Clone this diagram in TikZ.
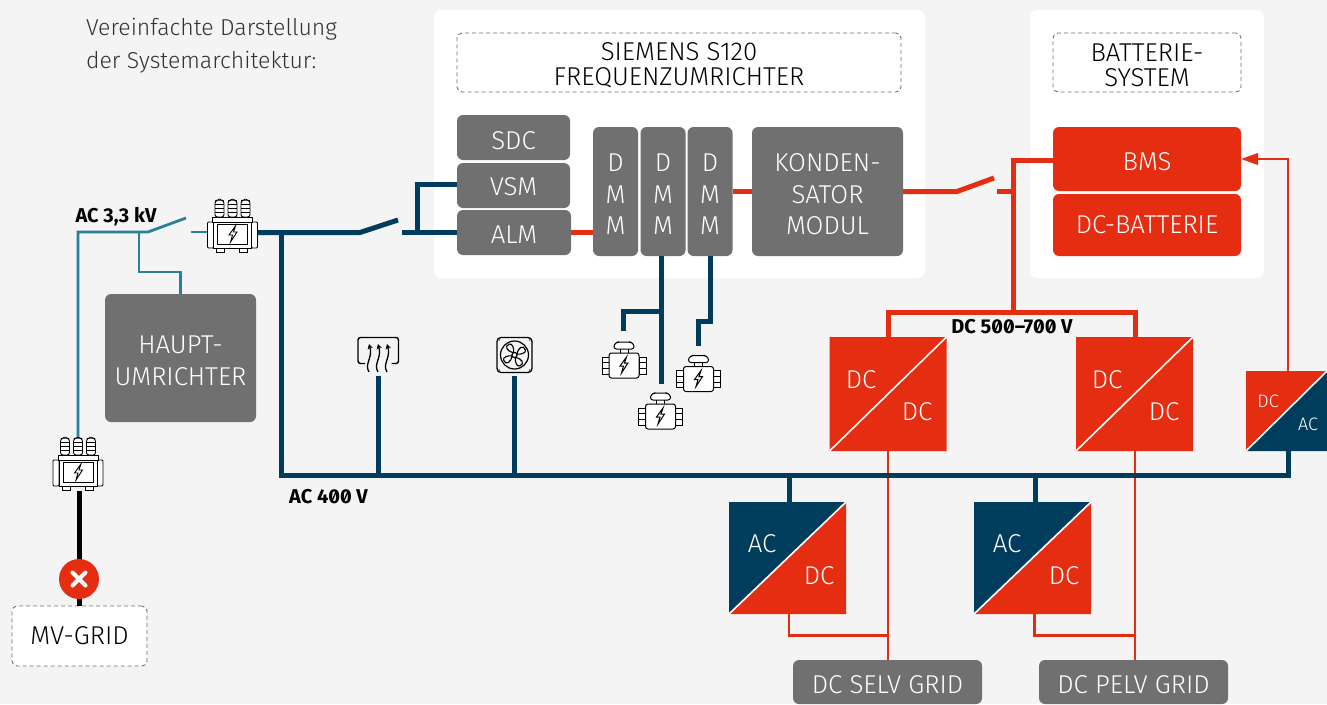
\documentclass[tikz,border=0pt]{standalone}
\usepackage{fontspec}
\setmainfont{Fira Sans Light}[BoldFont=Fira Sans Bold]
\usetikzlibrary{arrows.meta}
\definecolor{bgcol}{HTML}{F4F4F4}
\definecolor{boxgray}{HTML}{707070}
\definecolor{navy}{HTML}{003D5C}
\definecolor{teal2}{HTML}{2A7F9A}
\definecolor{redc}{HTML}{E52D12}
\newcommand{\bolt}{(2.5,-8) -- (-4,1) -- (-0.5,1) -- (-2.5,8) -- (4,-2) -- (0.5,-2) -- cycle}
\newcommand{\lift}{\rule{0pt}{23.5pt}}
\newcommand{\liftb}{\rule{0pt}{21pt}}
\tikzset{
	panel/.style={fill=white, rounded corners=7pt, inner sep=0pt, minimum width=#1, minimum height=268pt},
	dashbox/.style={draw=boxgray, dash pattern=on 4pt off 3pt, line width=0.9pt, fill=white, rounded corners=5pt, inner sep=0pt, text=black, align=center},
	block/.style={fill=boxgray, text=white, rounded corners=6pt, inner sep=0pt, align=center},
	redblock/.style={block, fill=redc},
	volt/.style={font=\fontsize{20}{20}\selectfont\bfseries\addfontfeatures{RawFeature=+zero}, text=black, inner sep=0pt},
	convlabel/.style={text=white, inner sep=0pt},
	conv/.style n args={4}{minimum width=#3, minimum height=#4, inner sep=0pt, path picture={
		\fill[#1] (path picture bounding box.north west) -- (path picture bounding box.north east) -- (path picture bounding box.south west) -- cycle;
		\fill[#2] (path picture bounding box.south east) -- (path picture bounding box.north east) -- (path picture bounding box.south west) -- cycle;
		\draw[white, line width=1.6pt] (path picture bounding box.south west) -- (path picture bounding box.north east);}},
	acline/.style={navy, line width=5pt},
	hvline/.style={teal2, line width=2.8pt},
	dcline/.style={redc, line width=5pt},
	dcthin/.style={redc, line width=2.6pt},
	iconbox/.style={inner sep=0pt, minimum width=#1, minimum height=36pt},
	xfmr/.pic={
		\foreach \bx in {-13,0,13} {
			\draw[fill=white, line width=0.9pt, rounded corners=2.5pt] (\bx-4.5,1) -- (\bx-2,0) -- (\bx+2,0) -- (\bx+4.5,1) -- (\bx+4.5,17) -- (\bx-4.5,17) -- cycle;
			\foreach \by in {4.5,8.5,12.5} \draw[line width=0.8pt] (\bx-4.5,\by) -- (\bx+4.5,\by);
		}
		\draw[fill=white, line width=0.9pt, rounded corners=1pt] (-25,22) rectangle (-19,48);
		\draw[fill=white, line width=0.9pt, rounded corners=1pt] (19,22) rectangle (25,48);
		\draw[fill=white, line width=0.9pt] (-16,48) rectangle (-8,52);
		\draw[fill=white, line width=0.9pt] (7,48) rectangle (15,52);
		\draw[fill=white, line width=0.9pt] (-20,17) rectangle (20,22);
		\draw[fill=white, line width=0.9pt] (-19,22) rectangle (19,48);
		\draw[line width=0.9pt] (-15,24) rectangle (15,44);
		\draw[line width=0.9pt, xshift=0.5pt, yshift=-34pt] \bolt;
	},
	motor/.pic={
		\draw[fill=white, line width=1pt] (-4,6) rectangle (4,11);
		\draw[fill=white, line width=1pt, rounded corners=2.5pt] (-10,7) -- (-10,2) -- (-6,0) -- (6,0) -- (10,2) -- (10,7) -- cycle;
		\foreach \sx in {-1,1} {
			\draw[fill=white, line width=1pt] (\sx*15,15) rectangle (\sx*22,32);
			\draw[line width=0.9pt] (\sx*15,20.5) -- (\sx*22,20.5) (\sx*15,26.5) -- (\sx*22,26.5);
		}
		\draw[fill=white, line width=1pt, rounded corners=2.5pt] (-15,11) rectangle (15,36);
		\draw[line width=1pt, yshift=-23pt] \bolt;
	},
}
\begin{document}
\begin{tikzpicture}[x=1pt, y=-1pt, font=\fontsize{25.8}{31.5}\selectfont]
	\useasboundingbox (0,0) rectangle (1327,704);
	\fill[bgcol] (0,0) rectangle (1327,704);

	% --- panels ---
	\node[panel=491pt] (panelA) at (679.5,144) {};
	\node[panel=234pt] (panelB) at (1147,144) {};
	\node[anchor=west, inner sep=0pt, align=left, text=black!80, font=\fontsize{23}{33}\selectfont] (heading) at (86,46) {Vereinfachte Darstellung\\der Systemarchitektur:};
	\node[dashbox, minimum width=444pt, minimum height=59pt, font=\fontsize{25.8}{25.5}\selectfont] (titleA) at (679,62.5) {\lift SIEMENS S120\\FREQUENZUMRICHTER};
	\node[dashbox, minimum width=188pt, minimum height=59pt, font=\fontsize{25.8}{25.5}\selectfont] (titleB) at (1147,62.5) {\lift BATTERIE-\\SYSTEM};
	\node[dashbox, minimum width=135pt, minimum height=60pt] (mvgrid) at (79.5,636) {MV-GRID};

	% --- gray blocks ---
	\node[block, minimum width=113pt, minimum height=45pt] (SDC) at (513.5,137.5) {\lift SDC};
	\node[block, minimum width=113pt, minimum height=45pt] (VSM) at (513.5,185.5) {\liftb VSM};
	\node[block, minimum width=114pt, minimum height=45pt] (ALM) at (514,232.5) {\liftb ALM};
	\node[block, minimum width=45pt, minimum height=129pt] (dmmA) at (615.5,191.5) {\lift D\\M\\M};
	\node[block, minimum width=45pt, minimum height=129pt] (dmmB) at (663,191.5) {\lift D\\M\\M};
	\node[block, minimum width=45pt, minimum height=129pt] (dmmC) at (710,191.5) {\lift D\\M\\M};
	\node[block, minimum width=151pt, minimum height=129pt] (kond) at (827.5,191.5) {\lift KONDEN-\\SATOR\\MODUL};
	\node[redblock, minimum width=188pt, minimum height=64pt] (BMS) at (1147,159) {\lift BMS};
	\node[redblock, minimum width=188pt, minimum height=62pt] (batt) at (1147,225) {DC-BATTERIE};
	\node[block, minimum width=151pt, minimum height=128pt] (haupt) at (180.5,358) {\lift HAUPT-\\UMRICHTER};
	\node[block, minimum width=189pt, minimum height=44pt] (selv) at (887.5,682) {\lift DC SELV GRID};
	\node[block, minimum width=189pt, minimum height=44pt] (pelv) at (1133.5,682) {\lift DC PELV GRID};

	% --- converters ---
	\node[conv={redc}{redc}{117pt}{114pt}] (dcdcA) at (888,394) {};
	\node[conv={redc}{redc}{117pt}{114pt}] (dcdcB) at (1134.5,394) {};
	\node[conv={navy}{redc}{117pt}{112pt}] (acdcA) at (787.5,558) {};
	\node[conv={navy}{redc}{117pt}{112pt}] (acdcB) at (1032.5,558) {};
	\node[conv={redc}{navy}{81pt}{80pt}] (dcac) at (1286.5,411) {};
	\node[convlabel] (l1) at (861,380) {DC};
	\node[convlabel] (l2) at (917,412) {DC};
	\node[convlabel] (l3) at (1107,380) {DC};
	\node[convlabel] (l4) at (1164,412) {DC};
	\node[convlabel] (l5) at (762,544) {AC};
	\node[convlabel] (l6) at (819,576) {DC};
	\node[convlabel] (l7) at (1007,544) {AC};
	\node[convlabel] (l8) at (1064,576) {DC};
	\node[convlabel, font=\fontsize{18}{18}\selectfont] (l9) at (1268,401) {DC};
	\node[convlabel, font=\fontsize{18}{18}\selectfont] (l10) at (1308,424) {AC};

	% --- icon places ---
	\node[inner sep=0pt, minimum width=49pt, minimum height=53pt] (xfmrA) at (232.5,226.5) {};
	\node[inner sep=0pt, minimum width=49pt, minimum height=53pt] (xfmrB) at (78,464.5) {};
	\node[iconbox=42pt] (heater) at (378,355) {};
	\node[iconbox=36pt] (fan) at (514.5,355) {};

	% --- coordinates ---
	\coordinate (busL) at (281,475.5);
	\coordinate (busR) at (1288,475.5);
	\coordinate (acSwA) at (360,232.5);
	\coordinate (acSwB) at (398,220);
	\coordinate (acFix) at (402,232.5);
	\coordinate (hvTop) at (78,232);
	\coordinate (hvSwA) at (148,232);
	\coordinate (hvSwB) at (186,218);
	\coordinate (hvFix) at (191,232);
	\coordinate (dcSwA) at (957,191.5);
	\coordinate (dcSwB) at (994,178);
	\coordinate (dcFix) at (997,191.5);
	\coordinate (dcBusT) at (1013,157.5);
	\coordinate (dcBusB) at (1013,312);

	% --- AC lines ---
	\draw[line width=5pt] (mvgrid.north |- xfmrB.south) -- (mvgrid.north);
	\draw[hvline] (xfmrB.north) -- (hvTop) -- (hvSwA) -- (hvSwB);
	\draw[hvline] (hvFix) -- (xfmrA.west |- hvFix);
	\draw[hvline] (139,232) -- (139,272) -| (haupt.north);
	\draw[acline] (xfmrA.east |- ALM.west) -- (acSwA) -- (acSwB);
	\draw[acline] (acFix) -- (ALM.west);
	\draw[acline] (417,232.5) -- (417,184.5) -- (VSM.west |- 0,184.5);
	\draw[acline] (dmmB.south -| 661,0) -- (661,383.5);
	\draw[acline] (661,311) -| (623,331);
	\draw[acline] (dmmC.south) -- (710,321) -| (698,346);

	% --- DC lines ---
	\draw[dcline] (ALM.east) -- (dmmA.west |- ALM.east);
	\draw[dcline] (dmmC.east) -- (kond.west);
	\draw[dcline] (kond.east) -- (dcSwA) -- (dcSwB);
	\draw[dcline] (dcFix) -- (1013,191.5);
	\draw[dcline] (dcBusT) -- (dcBusB);
	\draw[dcline] (1013,160.5) -- (BMS.west |- 0,160.5);
	\draw[dcline] (dcdcA.north -| 888,0) -- (888,312) -- (1135,312) -- (dcdcB.north -| 1135,0);
	\draw[dcthin] (dcdcA.south -| 888,0) -- (selv.north -| 888,0);
	\draw[dcthin] (dcdcB.south -| 1135,0) -- (pelv.north -| 1135,0);
	\draw[dcthin] (acdcA.south -| 789,0) -- (789,635.5) -- (888,635.5);
	\draw[dcthin] (acdcB.south -| 1034.5,0) -- (1034.5,635.5) -- (1135,635.5);
	\draw[redc, line width=1.1pt, -{Stealth[length=17pt, width=12pt, inset=0pt]}] (dcac.north -| 1288,0) -- (1288,159) -- (BMS.east);

	% --- AC 400 V bus on top ---
	\draw[acline] (busL |- ALM.west) -- (busL) -- (busR) -- (dcac.south -| busR);
	\draw[acline] (heater.south) ++(0,3) -- (heater.south |- busL);
	\draw[acline] (fan.south) ++(0,3) -- (fan.south |- busL);
	\draw[acline] (acdcA.north -| 789,0) -- (789,475.5);
	\draw[acline] (acdcB.north -| 1035,0) -- (1035,475.5);

	% --- icons ---
	\pic[xshift=232.5pt, yshift=-200pt] {xfmr};
	\pic[xshift=78pt, yshift=-438pt] {xfmr};
	\pic[xshift=624pt, yshift=-342pt] {motor};
	\pic[xshift=660.5pt, yshift=-393pt] {motor};
	\pic[xshift=698.5pt, yshift=-355.5pt] {motor};

	% heater
	\draw[line width=1.4pt, rounded corners=2.5pt] (365,363.5) -- (358,363.5) -- (358,337.5) -- (398.5,337.5) -- (398.5,363.5) -- (391.5,363.5);
	\foreach \hx in {369,378,387}
		\draw[line width=1.3pt, -{Stealth[length=5pt, width=5.5pt]}] (\hx,372) .. controls (\hx-5,364) and (\hx+4,358) .. (\hx,344);

	% fan
	\draw[line width=1.3pt, rounded corners=4pt] (497,337.5) rectangle (532,372.5);
	\draw[line width=1.2pt] (fan.center) circle (14pt);
	\draw[line width=1.2pt] (fan.center) circle (2.6pt);
	\foreach \ang in {20,110,200,290}
		\draw[line width=1.1pt, shift={(fan.center)}, rotate=\ang] (2.6,0) .. controls (6,-6) and (12,-7) .. (12,-1) .. controls (12,2) and (6,2) .. (2.6,0);
	\foreach \dx/\dy in {-15/-15,15/-15,-15/15,15/15}
		\fill ([xshift=\dx pt, yshift=\dy pt]fan.center) circle (0.7pt);

	% trip
	\node[circle, fill=redc, minimum size=40pt, inner sep=0pt] (trip) at (79,579) {};
	\draw[white, line width=4pt, line cap=round] (72.5,572.5) -- (85.5,585.5) (72.5,585.5) -- (85.5,572.5);

	% --- voltage labels ---
	\node[volt] (v33) at (116,217) {AC 3,3 kV};
	\node[volt] (v400) at (328.5,497) {AC 400 V};
	\node[volt] (vdc) at (1012,327) {DC 500–700 V};
\end{tikzpicture}
\end{document}
